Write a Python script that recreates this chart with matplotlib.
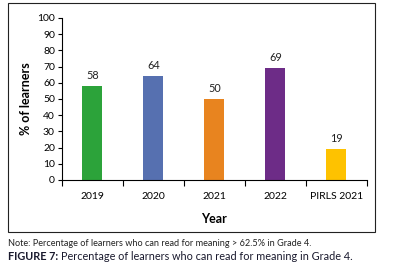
import matplotlib.pyplot as plt
from matplotlib.patches import Rectangle

plt.rcParams.update({
    "font.family": ["Lato", "DejaVu Sans"],
    "font.size": 7.5,
})

years = ["2019", "2020", "2021", "2022", "PIRLS 2021"]
values = [58, 64, 50, 69, 19]
colors = ["#2CA33A", "#5670B0", "#E8841F", "#6D2C87", "#FEC200"]

fig = plt.figure(figsize=(3.94, 2.67), dpi=100)
ax = fig.add_axes([0.157, 0.326, 0.774, 0.607])

x = range(len(years))
ax.bar(x, values, width=0.33, color=colors)
for xi, v in zip(x, values):
    ax.text(xi, v + 3, str(v), ha="center", va="bottom", fontsize=7.8, color="#222")

ax.set_xlim(-0.5, len(years) - 0.5)
ax.set_ylim(0, 100)
ax.set_yticks(range(0, 101, 10))
ax.set_xticks(x)
ax.set_xticklabels(years)
ax.set_xticks([i - 0.5 for i in range(len(years) + 1)], minor=True)
ax.tick_params(axis="x", which="major", length=0, pad=9)
ax.tick_params(axis="x", which="minor", length=4, width=0.8, direction="out")
ax.tick_params(axis="y", length=3, width=0.8, pad=2)
for s in ["top", "right"]:
    ax.spines[s].set_visible(False)
for s in ["left", "bottom"]:
    ax.spines[s].set_linewidth(0.8)
ax.set_ylabel("% of learners", fontweight="bold", fontsize=9, labelpad=4)
ax.set_xlabel("Year", fontweight="bold", fontsize=9, labelpad=8)

# outer box
fig.patches.append(Rectangle((8 / 394, 1 - 232 / 267), 367 / 394, 229 / 267,
                             transform=fig.transFigure, fill=False,
                             edgecolor="#222", linewidth=0.8))

fig.text(8 / 394, 1 - 243 / 267, "Note: Percentage of learners who can read for meaning > 62.5% in Grade 4.",
         fontsize=6.6, va="center", ha="left", color="#222")

cap1 = fig.text(8 / 394, 1 - 257 / 267, "FIGURE 7:", fontsize=7.8, fontweight="bold",
                va="center", ha="left", color="#1a1a2e")
fig.canvas.draw()
bb = cap1.get_window_extent()
fig.text((bb.x1 + 3) / 394, 1 - 257 / 267,
         "Percentage of learners who can read for meaning in Grade 4.",
         fontsize=7.8, va="center", ha="left", color="#1a1a2e")

fig.savefig("out.png", dpi=100)
